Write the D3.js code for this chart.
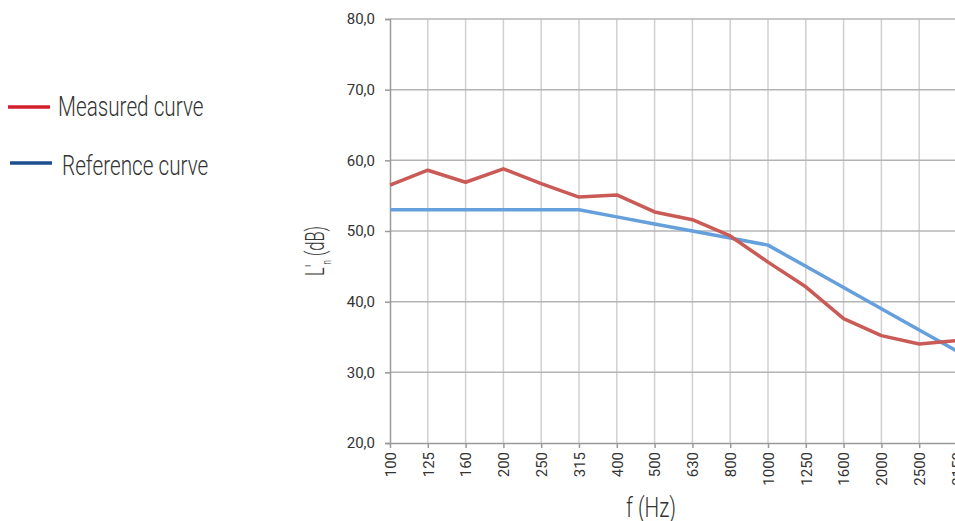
<!DOCTYPE html>
<html>
<head>
<meta charset="utf-8">
<script src="https://cdn.jsdelivr.net/npm/d3@7"></script>
<style>
  body { margin: 0; background: #fff; }
  svg { display: block; }
</style>
</head>
<body>
<script>
// data
var freqs = ['100','125','160','200','250','315','400','500','630','800','1000','1250','1600','2000','2500','3150']
var measured = [56.5, 58.6, 56.9, 58.8, 56.7, 54.8, 55.1, 52.7, 51.6, 49.3, 45.6, 42.1, 37.6, 35.2, 34.0, 34.5]
var reference = [53, 53, 53, 53, 53, 53, 52, 51, 50, 49, 48, 45, 42, 39, 36, 33]
var yTicks = [20, 30, 40, 50, 60, 70, 80]

var W = 955, H = 521
var plotLeft = 390, plotTop = 19, plotBottom = 443

var svg = d3.select('body').append('svg').attr('width', W).attr('height', H)

var x = d3.scalePoint().domain(freqs).range([plotLeft, 957])
var y = d3.scaleLinear().domain([20, 80]).range([plotBottom, plotTop])

// vertical grid
svg.append('g').selectAll('line').data(freqs.slice(1)).join('line')
  .attr('x1', function(d) { return x(d) }).attr('x2', function(d) { return x(d) })
  .attr('y1', plotTop).attr('y2', plotBottom)
  .attr('stroke', '#d0d0d0').attr('stroke-width', 1.5)

// horizontal grid
svg.append('g').selectAll('line').data(yTicks.slice(1)).join('line')
  .attr('x1', plotLeft).attr('x2', W)
  .attr('y1', function(d) { return y(d) }).attr('y2', function(d) { return y(d) })
  .attr('stroke', '#b4b4b4').attr('stroke-width', 1.5)

// y axis
var yAxis = d3.axisLeft(y).tickValues(yTicks).tickSize(5).tickPadding(10)
  .tickFormat(function(d) { return d3.format('.1f')(d).replace('.', ',') })
var gy = svg.append('g').attr('transform', 'translate(' + plotLeft + ',0)').call(yAxis)
gy.select('.domain').attr('stroke', '#9a9a9a').attr('stroke-width', 1.5)
gy.selectAll('.tick line').attr('stroke', '#9a9a9a').attr('stroke-width', 1.5)
gy.selectAll('text').attr('font-family', 'Roboto').attr('font-size', 15).attr('fill', '#333')

// x axis
var xAxis = d3.axisBottom(x).tickSize(5).tickSizeOuter(0)
var gx = svg.append('g').attr('transform', 'translate(0,' + plotBottom + ')').call(xAxis)
gx.select('.domain').attr('stroke', '#9a9a9a').attr('stroke-width', 1.5)
gx.selectAll('.tick line').attr('stroke', '#9a9a9a').attr('stroke-width', 1.5)
gx.selectAll('text')
  .attr('font-family', 'Roboto').attr('font-size', 15).attr('fill', '#333')
  .attr('transform', 'rotate(-90)')
  .attr('text-anchor', 'end').attr('dy', '0.35em')
  .attr('x', -9).attr('y', 0)

// lines
var line = d3.line()
  .x(function(d, i) { return x(freqs[i]) })
  .y(function(d) { return y(d) })

svg.append('path').datum(reference)
  .attr('d', line).attr('fill', 'none')
  .attr('stroke', '#659fdc').attr('stroke-width', 3.5).attr('stroke-linejoin', 'round')

svg.append('path').datum(measured)
  .attr('d', line).attr('fill', 'none')
  .attr('stroke', '#c95a55').attr('stroke-width', 3.5).attr('stroke-linejoin', 'round')

// condensed text helper
function condText(g, px, py, txt, size, anchor) {
  return g.append('text')
    .attr('transform', 'translate(' + px + ',' + py + ') scale(0.74,1)')
    .attr('font-family', 'Roboto').attr('font-weight', 300)
    .attr('font-size', size).attr('fill', '#333')
    .attr('text-anchor', anchor || 'start')
    .text(txt)
}

// legend
svg.append('line').attr('x1', 8).attr('x2', 50).attr('y1', 107).attr('y2', 107)
  .attr('stroke', '#d21f2b').attr('stroke-width', 3.5)
condText(svg, 58, 116, 'Measured curve', 28)
svg.append('line').attr('x1', 10).attr('x2', 52).attr('y1', 163).attr('y2', 163)
  .attr('stroke', '#1b4f8f').attr('stroke-width', 3.5)
condText(svg, 62, 175, 'Reference curve', 28)

// axis titles
condText(svg, 651, 517, 'f (Hz)', 28, 'middle')

var yt = svg.append('text')
  .attr('transform', 'translate(324,251) rotate(-90) scale(0.66,1)')
  .attr('font-family', 'Roboto').attr('font-weight', 300)
  .attr('font-size', 25).attr('fill', '#333')
  .attr('text-anchor', 'middle')
yt.append('tspan').text('L\'')
yt.append('tspan').attr('font-size', 12).attr('dy', 7).text('n')
yt.append('tspan').attr('dy', -7).text(' (dB)')
</script>
</body>
</html>
